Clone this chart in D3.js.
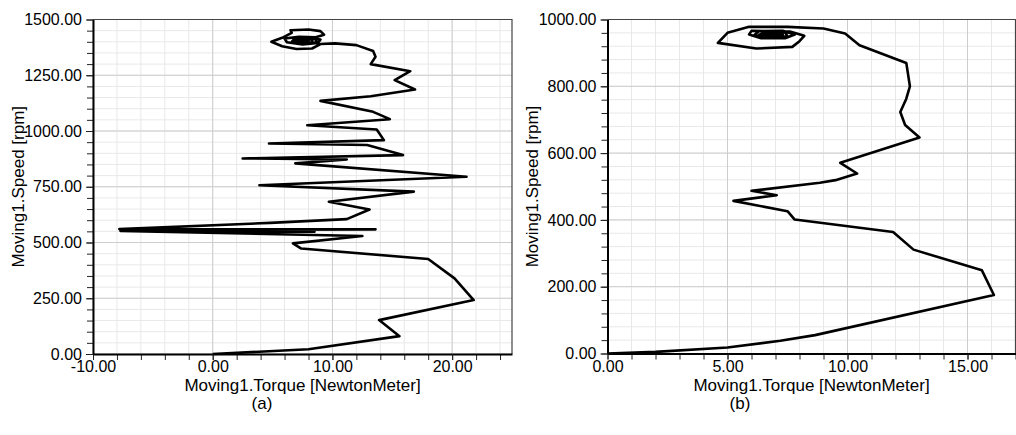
<!DOCTYPE html>
<html>
<head>
<meta charset="utf-8">
<script src="https://cdn.jsdelivr.net/npm/d3@7"></script>
<style>
  html, body { margin: 0; padding: 0; background: #fff; }
  svg { display: block; }
  text { font-family: "Liberation Sans", Arial, sans-serif; fill: #000; }
</style>
</head>
<body>
<svg id="chart" width="1016" height="435"></svg>
<script>
// Panel (a): torque vs speed trace
const torqueA = [0, 8.0, 15.6, 13.9, 21.8, 20.2, 18.0, 7.4, 6.7, 12.5, -7.7, 8.5, -7.7, 13.6, -7.8, 4.8, 11.2,
  13.1, 9.7, 16.8, 3.9, 21.2, 6.9, 11.2, 2.5, 15.9, 12.9, 4.7, 14.3, 13.7, 7.9, 14.8, 13.4, 9.0, 13.2,
  16.9, 15.2, 16.5, 13.2, 13.6, 13.4, 12.0,
  10.2, 9.0, 8.3, 7.0, 5.8, 4.9, 5.8, 6.6, 6.5, 8.0, 9.0, 9.3, 8.6, 7.2, 6.0, 6.2, 7.5, 8.8, 9.0, 8.0,
  6.8, 6.6, 7.6, 8.7, 8.6, 7.4, 6.7, 7.2, 8.3, 8.3, 7.3, 7.0, 7.9, 8.0, 7.5, 7.5];
const speedA = [0, 21, 80, 152, 242, 339, 426, 473, 496, 529, 552, 548, 556, 559, 560, 588, 605,
  648, 683, 728, 757, 795, 855, 872, 877, 892, 937, 944, 959, 1007, 1026, 1053, 1086, 1135, 1156,
  1186, 1228, 1268, 1300, 1333, 1359, 1385,
  1393, 1390, 1370, 1368, 1380, 1400, 1418, 1440, 1452, 1455, 1448, 1432, 1420, 1422, 1415, 1398, 1388,
  1395, 1410, 1418, 1412, 1400, 1390, 1398, 1412, 1416, 1406, 1395, 1398, 1410, 1411, 1402, 1398, 1406, 1407, 1403];

// Panel (b): torque vs speed trace
const torqueB = [0, 2.0, 5.0, 7.2, 8.65, 16.1, 15.6, 12.75, 11.9, 7.8, 7.5, 5.25, 7.05, 6.0, 8.85, 9.5,
  10.4, 9.7, 13.0, 12.4, 12.2, 12.45, 12.6, 12.45, 10.5, 9.9, 9.0,
  7.5, 5.9, 5.0, 4.6, 6.2, 7.7, 8.0, 8.2, 7.6, 6.0, 5.9, 6.4, 7.4, 7.8, 7.3, 6.3, 6.1, 6.7, 7.5, 7.4,
  6.6, 6.3, 6.9, 7.3, 6.9, 6.5, 6.9, 7.1, 6.8];
const speedB = [0, 5, 18, 38, 55, 175, 249, 311, 364, 401, 426, 457, 474, 487, 511, 519,
  539, 571, 647, 684, 723, 763, 800, 870, 923, 958, 973,
  978, 978, 960, 930, 913, 918, 935, 951, 964, 966, 955, 944, 944, 955, 966, 965, 952, 945, 950, 961,
  962, 954, 948, 955, 960, 955, 951, 956, 956];

// Major tick values of each axis
const xTicksA = [-10, 0, 10, 20];
const yTicksA = [0, 250, 500, 750, 1000, 1250, 1500];
const xTicksB = [0, 5, 10, 15];
const yTicksB = [0, 200, 400, 600, 800, 1000];

const xTitle = "Moving1.Torque [NewtonMeter]";
const yTitle = "Moving1.Speed [rpm]";

const svg = d3.select("#chart");
const fmt = d => d.toFixed(2);

function drawPanel(cfg) {
  const g = svg.append("g");
  const x = d3.scaleLinear().domain(cfg.xDomain).range([cfg.left, cfg.right]);
  const y = d3.scaleLinear().domain(cfg.yDomain).range([cfg.bottom, cfg.top]);

  const minor = (dom, step) => d3.range(dom[0], dom[1] + step * 1e-6, step / 5);
  const xMinor = minor(cfg.xDomain, cfg.xStep);
  const yMinor = minor(cfg.yDomain, cfg.yStep);

  // grid: light minor lines, darker major lines
  g.append("g").selectAll("line").data(xMinor).join("line")
    .attr("x1", d => x(d)).attr("x2", d => x(d))
    .attr("y1", cfg.top).attr("y2", cfg.bottom)
    .attr("stroke", "#e8e8e8").attr("stroke-width", 1);
  g.append("g").selectAll("line").data(yMinor).join("line")
    .attr("y1", d => y(d)).attr("y2", d => y(d))
    .attr("x1", cfg.left).attr("x2", cfg.right)
    .attr("stroke", "#e8e8e8").attr("stroke-width", 1);
  g.append("g").selectAll("line").data(cfg.xTicks).join("line")
    .attr("x1", d => x(d)).attr("x2", d => x(d))
    .attr("y1", cfg.top).attr("y2", cfg.bottom)
    .attr("stroke", "#cdcdcd").attr("stroke-width", 1);
  g.append("g").selectAll("line").data(cfg.yTicks).join("line")
    .attr("y1", d => y(d)).attr("y2", d => y(d))
    .attr("x1", cfg.left).attr("x2", cfg.right)
    .attr("stroke", "#cdcdcd").attr("stroke-width", 1);

  // frame on top and right
  g.append("path")
    .attr("d", `M${cfg.left},${cfg.top}H${cfg.right}V${cfg.bottom}`)
    .attr("fill", "none").attr("stroke", "#444").attr("stroke-width", 1.2);

  // trace
  const pts = cfg.tx.map((t, i) => [t, cfg.sy[i]]);
  g.append("path")
    .datum(pts)
    .attr("d", d3.line().x(d => x(d[0])).y(d => y(d[1])))
    .attr("fill", "none").attr("stroke", "#000")
    .attr("stroke-width", 2.6).attr("stroke-linejoin", "round");

  // minor tick marks
  g.append("g").attr("transform", `translate(0,${cfg.bottom})`)
    .call(d3.axisBottom(x).tickValues(xMinor).tickSize(6).tickSizeOuter(0).tickFormat(""))
    .call(a => a.select(".domain").remove())
    .call(a => a.selectAll("line").attr("stroke", "#222"));
  g.append("g").attr("transform", `translate(${cfg.left},0)`)
    .call(d3.axisLeft(y).tickValues(yMinor).tickSize(6).tickSizeOuter(0).tickFormat(""))
    .call(a => a.select(".domain").remove())
    .call(a => a.selectAll("line").attr("stroke", "#222"));

  // labelled axes
  const ax = g.append("g").attr("transform", `translate(0,${cfg.bottom})`)
    .call(d3.axisBottom(x).tickValues(cfg.xTicks).tickSize(6).tickSizeOuter(0).tickPadding(1).tickFormat(fmt));
  const ay = g.append("g").attr("transform", `translate(${cfg.left},0)`)
    .call(d3.axisLeft(y).tickValues(cfg.yTicks).tickSize(7).tickSizeOuter(0).tickPadding(4).tickFormat(fmt));
  [ax, ay].forEach(a => {
    a.select(".domain").attr("stroke", "#000").attr("stroke-width", 2);
    a.selectAll(".tick line").attr("stroke", "#222");
    a.selectAll(".tick text").attr("font-size", 16).attr("fill", "#000")
      .attr("font-family", "'Liberation Sans', Arial, sans-serif");
  });

  // axis titles
  g.append("text")
    .attr("x", (cfg.left + cfg.right) / 2).attr("y", cfg.bottom + 37)
    .attr("text-anchor", "middle").attr("font-size", 17)
    .text(xTitle);
  g.append("text")
    .attr("transform", `translate(${cfg.yTitleX},${(cfg.top + cfg.bottom) / 2}) rotate(-90)`)
    .attr("text-anchor", "middle").attr("font-size", 17)
    .text(yTitle);

  // panel caption
  g.append("text")
    .attr("x", cfg.captionX).attr("y", 409)
    .attr("text-anchor", "middle").attr("font-size", 17)
    .attr("font-family", "'Liberation Serif', 'Times New Roman', serif")
    .text(cfg.caption);
}

drawPanel({
  left: 93, right: 512, top: 19.5, bottom: 354,
  xDomain: [-10, 25], yDomain: [0, 1500], xStep: 10, yStep: 250,
  xTicks: xTicksA, yTicks: yTicksA, tx: torqueA, sy: speedA,
  yTitleX: 24, captionX: 262, caption: "(a)"
});
drawPanel({
  left: 607.5, right: 1015.5, top: 19.5, bottom: 353.5,
  xDomain: [0, 17], yDomain: [0, 1000], xStep: 5, yStep: 200,
  xTicks: xTicksB, yTicks: yTicksB, tx: torqueB, sy: speedB,
  yTitleX: 538, captionX: 740, caption: "(b)"
});
</script>
</body>
</html>
